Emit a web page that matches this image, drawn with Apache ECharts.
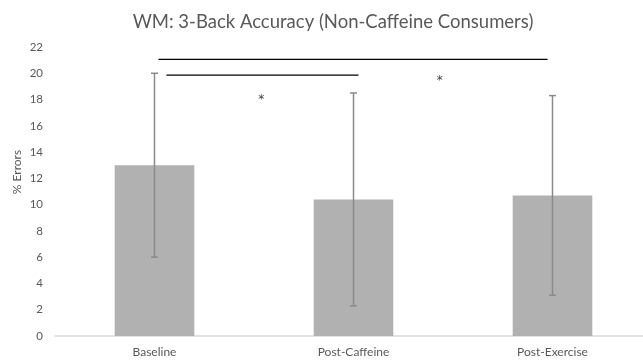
<!DOCTYPE html>
<html>
<head>
<meta charset="utf-8">
<script src="https://cdn.jsdelivr.net/npm/echarts@6/dist/echarts.min.js"></script>
<style>
  html, body { margin: 0; padding: 0; background: #fff; overflow: hidden; }
  #chart { width: 652px; height: 362px; }
</style>
</head>
<body>
<div id="chart"></div>
<script>
// Conditions and mean % errors
const categories = ['Baseline', 'Post-Caffeine', 'Post-Exercise'];
const meanErrors = [13.0, 10.4, 10.7];
// Error bar extents (low, high)
const errLow = [6.0, 2.3, 3.1];
const errHigh = [20.0, 18.5, 18.3];
// Significance brackets: [from category position, to category position, y level]
const brackets = [[0.02, 1.975, 21.06], [0.06, 1.025, 19.86]];
// Significance markers: [category position, y level, text]
const markers = [[0.537, 18.0, '*'], [1.433, 19.4, '*']];

const FONT = 'Lato';
const chart = echarts.init(document.getElementById('chart'));

chart.setOption({
  animation: false,
  title: {
    text: 'WM: 3-Back Accuracy (Non-Caffeine Consumers)',
    left: 328,
    textAlign: 'center',
    top: 8,
    textStyle: { fontFamily: FONT, fontSize: 18.5, fontWeight: 'normal', color: '#595959' }
  },
  graphic: [{
    type: 'text',
    x: 17,
    y: 172,
    rotation: Math.PI / 2,
    style: {
      text: '% Errors',
      fontFamily: FONT, fontSize: 12, fill: '#595959',
      textAlign: 'center', textVerticalAlign: 'middle'
    }
  }],
  // the plot area runs slightly past the right edge of the window
  grid: { left: 55, right: 0, top: 47, bottom: 26 },
  xAxis: [{
    type: 'category',
    data: categories,
    axisLine: { lineStyle: { color: '#d9d9d9', width: 1.5 } },
    axisTick: { show: false },
    axisLabel: { fontFamily: FONT, fontSize: 12, color: '#595959', margin: 10 }
  }, {
    type: 'value', min: -0.5, max: 2.5, show: false
  }],
  yAxis: {
    type: 'value', min: 0, max: 22, interval: 2,
    axisLine: { show: false },
    axisTick: { show: false },
    splitLine: { show: false },
    axisLabel: { fontFamily: FONT, fontSize: 11.5, color: '#595959', margin: 12 }
  },
  series: [{
    type: 'bar',
    data: meanErrors,
    barWidth: '40%',
    itemStyle: { color: '#b1b1b2' }
  }, {
    type: 'custom',
    data: categories.map((c, i) => [i, errLow[i], errHigh[i]]),
    renderItem: (params, api) => {
      const top = api.coord([api.value(0), api.value(2)]);
      const bot = api.coord([api.value(0), api.value(1)]);
      const hw = 3.5;
      const st = { stroke: '#8a8a8a', lineWidth: 1.5 };
      return {
        type: 'group',
        children: [
          { type: 'line', shape: { x1: top[0], y1: top[1], x2: bot[0], y2: bot[1] }, style: st },
          { type: 'line', shape: { x1: top[0] - hw, y1: top[1], x2: top[0] + hw, y2: top[1] }, style: st },
          { type: 'line', shape: { x1: bot[0] - hw, y1: bot[1], x2: bot[0] + hw, y2: bot[1] }, style: st }
        ]
      };
    },
    z: 3
  }, {
    type: 'custom',
    xAxisIndex: 1,
    data: brackets,
    renderItem: (params, api) => {
      const a = api.coord([api.value(0), api.value(2)]);
      const b = api.coord([api.value(1), api.value(2)]);
      return { type: 'line', shape: { x1: a[0], y1: a[1], x2: b[0], y2: b[1] }, style: { stroke: '#000', lineWidth: 1.2 } };
    },
    z: 4
  }, {
    type: 'custom',
    xAxisIndex: 1,
    data: markers,
    renderItem: (params, api) => {
      const p = api.coord([api.value(0), api.value(1)]);
      return {
        type: 'text', x: p[0], y: p[1],
        style: { text: markers[params.dataIndex][2], fontFamily: 'DejaVu Sans', fontSize: 12, fill: '#404040', textAlign: 'center', textVerticalAlign: 'middle' }
      };
    },
    z: 4
  }]
});
</script>
</body>
</html>
